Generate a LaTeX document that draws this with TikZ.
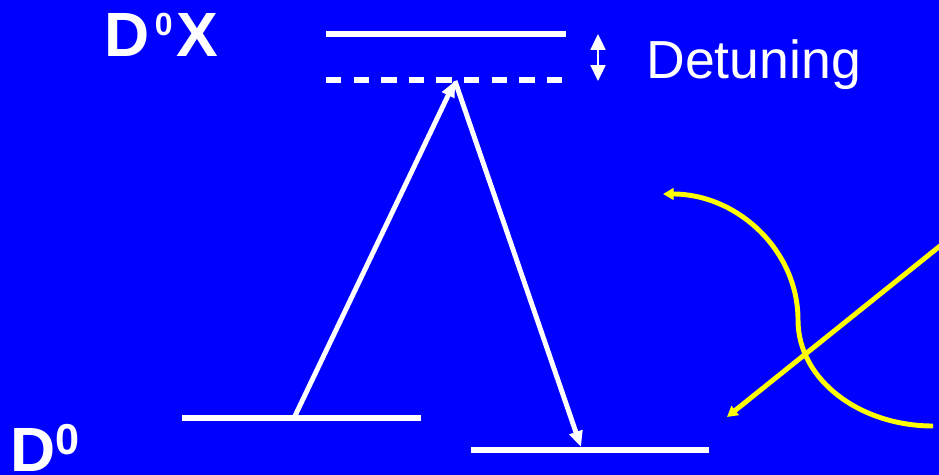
\documentclass[tikz,border=0pt]{standalone}
\usepackage{fontspec}
\setmainfont{Liberation Sans}
\usetikzlibrary{arrows.meta}
\definecolor{slideBlue}{HTML}{0000FF}
\definecolor{slideYellow}{HTML}{FFFF00}

\begin{document}
\begin{tikzpicture}[
  x=0.02cm,y=-0.02cm,
  state/.style={draw=white,line width=3.4pt},
  virt/.style={state,dash pattern=on 8.8pt off 6.9pt},
  optic/.style={-{Triangle[length=9pt,width=7.5pt]},draw=white,line width=2.8pt},
  detune/.style={{Triangle[length=9pt,width=8.5pt]}-{Triangle[length=9pt,width=8.5pt]},draw=white,line width=1.1pt},
  spin/.style={-{Triangle[length=6pt,width=6.5pt]},draw=slideYellow,line width=2.8pt},
  lbl/.style={text=white,inner sep=0pt,anchor=base west}
]
\fill[slideBlue] (0,0) rectangle (939,475);
\useasboundingbox (0,0) rectangle (939,475);

% levels
\coordinate (exL) at (326,34);
\coordinate (exR) at (566,34);
\coordinate (vrL) at (326,80);
\coordinate (vrR) at (568,80);
\coordinate (gaL) at (182,418);
\coordinate (gaR) at (421,418);
\coordinate (gbL) at (471,450);
\coordinate (gbR) at (709,450);
\draw[state] (exL) -- (exR);
\draw[virt] (vrL) -- (vrR);
\draw[state] (gaL) -- (gaR);
\draw[state] (gbL) -- (gbR);

% Raman transition
\coordinate (pump) at (294,418);
\coordinate (apex) at (455,81);
\coordinate (emit) at (581,447);
\draw[optic] (pump) -- (apex);
\draw[optic] (apex) -- (emit);

% detuning
\coordinate (dtTop) at (598,34);
\coordinate (dtBot) at (598,81);
\draw[detune] (dtTop) -- (dtBot);
\node[lbl,font=\fontsize{30.5}{32}\selectfont] (det) at (646,79) {Detuning};

% labels
\node[lbl,font=\fontsize{35.6}{40}\selectfont\bfseries] (dx) at (104,57)
  {D\kern3pt\raisebox{12.5pt}{\fontsize{18.2}{20}\selectfont 0}\kern2pt X};
\node[lbl,font=\fontsize{35.6}{40}\selectfont\bfseries] (dz) at (10,472)
  {D\raisebox{10.2pt}{\fontsize{24.6}{26}\selectfont 0}};

% spin paths
\coordinate (tail) at (933,426);
\coordinate (turn) at (798,320);
\coordinate (head) at (663,194);
\draw[spin] (tail) .. controls (860,426) and (798,380) .. (turn)
  .. controls (798,250) and (737,194) .. (head);
\coordinate (beamIn) at (945,242);
\coordinate (beamOut) at (727,417);
\draw[spin] (beamIn) -- (beamOut);
\end{tikzpicture}
\end{document}
